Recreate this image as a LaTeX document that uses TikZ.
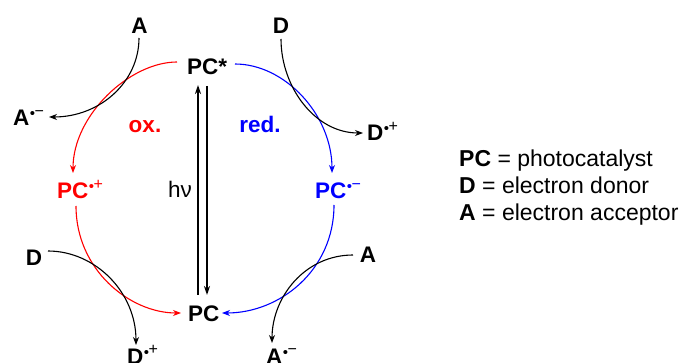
\documentclass[tikz,border=0pt]{standalone}
\usepackage{fontspec}
\setmainfont{Liberation Sans}
\usetikzlibrary{arrows.meta}
\definecolor{rd}{RGB}{255,0,0}
\definecolor{bl}{RGB}{0,0,255}
\newcommand{\radsup}[1]{\kern0.5pt\raisebox{7pt}{\fontsize{15}{15}\selectfont\mdseries •}\kern-0.5pt\raisebox{9.5pt}{\fontsize{16}{16}\selectfont\mdseries #1}}
\tikzset{
  lbl/.style={inner sep=0pt, font=\fontsize{22.5}{22.5}\selectfont\bfseries},
  leg/.style={inner sep=0pt, anchor=base west, font=\fontsize{23}{23}\selectfont},
  cv/.style={line width=1.1pt, -{Stealth[length=8pt,width=6pt]}},
  vert/.style={line width=1.6pt, -{Stealth[length=9pt,width=6pt]}},
}
\begin{document}
\begin{tikzpicture}[x=1pt,y=-1pt]
\useasboundingbox (0,0) rectangle (680,363);
% labels
\node[lbl,anchor=base] (Atop) at (139.5,34) {A};
\node[lbl,anchor=base west] (PCs) at (187,75) {PC*};
\node[lbl,anchor=base] (Dtop) at (281,34) {D};
\node[lbl,anchor=base west] (Arl) at (13,126) {A\radsup{−}};
\node[lbl,anchor=base,text=rd] (ox) at (145,133) {ox.};
\node[lbl,anchor=base,text=bl] (red) at (260,133) {red.};
\node[lbl,anchor=base west] (Drr) at (367,141) {D\radsup{+}};
\node[lbl,anchor=base west,text=rd] (PCp) at (57,199) {PC\radsup{+}};
\node[inner sep=0pt,anchor=base,font=\fontsize{22.5}{22.5}\selectfont] (hv) at (180,198) {hν};
\node[lbl,anchor=base west,text=bl] (PCm) at (315,199) {PC\radsup{−}};
\node[lbl,anchor=base] (Dl) at (34,266) {D};
\node[lbl,anchor=base] (Ar) at (368,263) {A};
\node[lbl,anchor=base west] (PC) at (188,321) {PC};
\node[lbl,anchor=base west] (Drb) at (127,364) {D\radsup{+}};
\node[lbl,anchor=base west] (Arb) at (266,364) {A\radsup{−}};
% legend
\node[leg] (L1) at (459,167) {\textbf{PC} = photocatalyst};
\node[leg] (L2) at (459,194) {\textbf{D} = electron donor};
\node[leg] (L3) at (459,221) {\textbf{A} = electron acceptor};
% connector end points
\coordinate (r1s) at (177,62);  \coordinate (r1e) at (73,173);
\coordinate (a1s) at (139,38);  \coordinate (a1e) at (49,117);
\coordinate (b1s) at (235,64);  \coordinate (b1e) at (332,173);
\coordinate (d1s) at (281,39);  \coordinate (d1e) at (363,133);
\coordinate (r2s) at (76,206);  \coordinate (r2e) at (181,313);
\coordinate (d2s) at (48,251);  \coordinate (d2e) at (136,345);
\coordinate (b2s) at (334,205); \coordinate (b2e) at (222,313);
\coordinate (a2s) at (353,255); \coordinate (a2e) at (272,343);
\coordinate (upS) at (198,295); \coordinate (upE) at (198,85);
\coordinate (dnS) at (207,86);  \coordinate (dnE) at (207,295);
% curves
\draw[cv,rd] (r1s) .. controls (130,62) and (73,115) .. (r1e);
\draw[cv] (a1s) .. controls (139,82) and (100,117) .. (a1e);
\draw[cv,bl] (b1s) .. controls (285,64) and (332,115) .. (b1e);
\draw[cv] (d1s) .. controls (281,87) and (315,133) .. (d1e);
\draw[cv,rd] (r2s) .. controls (76,270) and (130,313) .. (r2e);
\draw[cv] (d2s) .. controls (95,251) and (136,292) .. (d2e);
\draw[cv,bl] (b2s) .. controls (334,270) and (280,313) .. (b2e);
\draw[cv] (a2s) .. controls (305,255) and (272,297) .. (a2e);
% vertical arrows
\draw[vert] (upS) -- (upE);
\draw[vert] (dnS) -- (dnE);
\end{tikzpicture}
\end{document}
